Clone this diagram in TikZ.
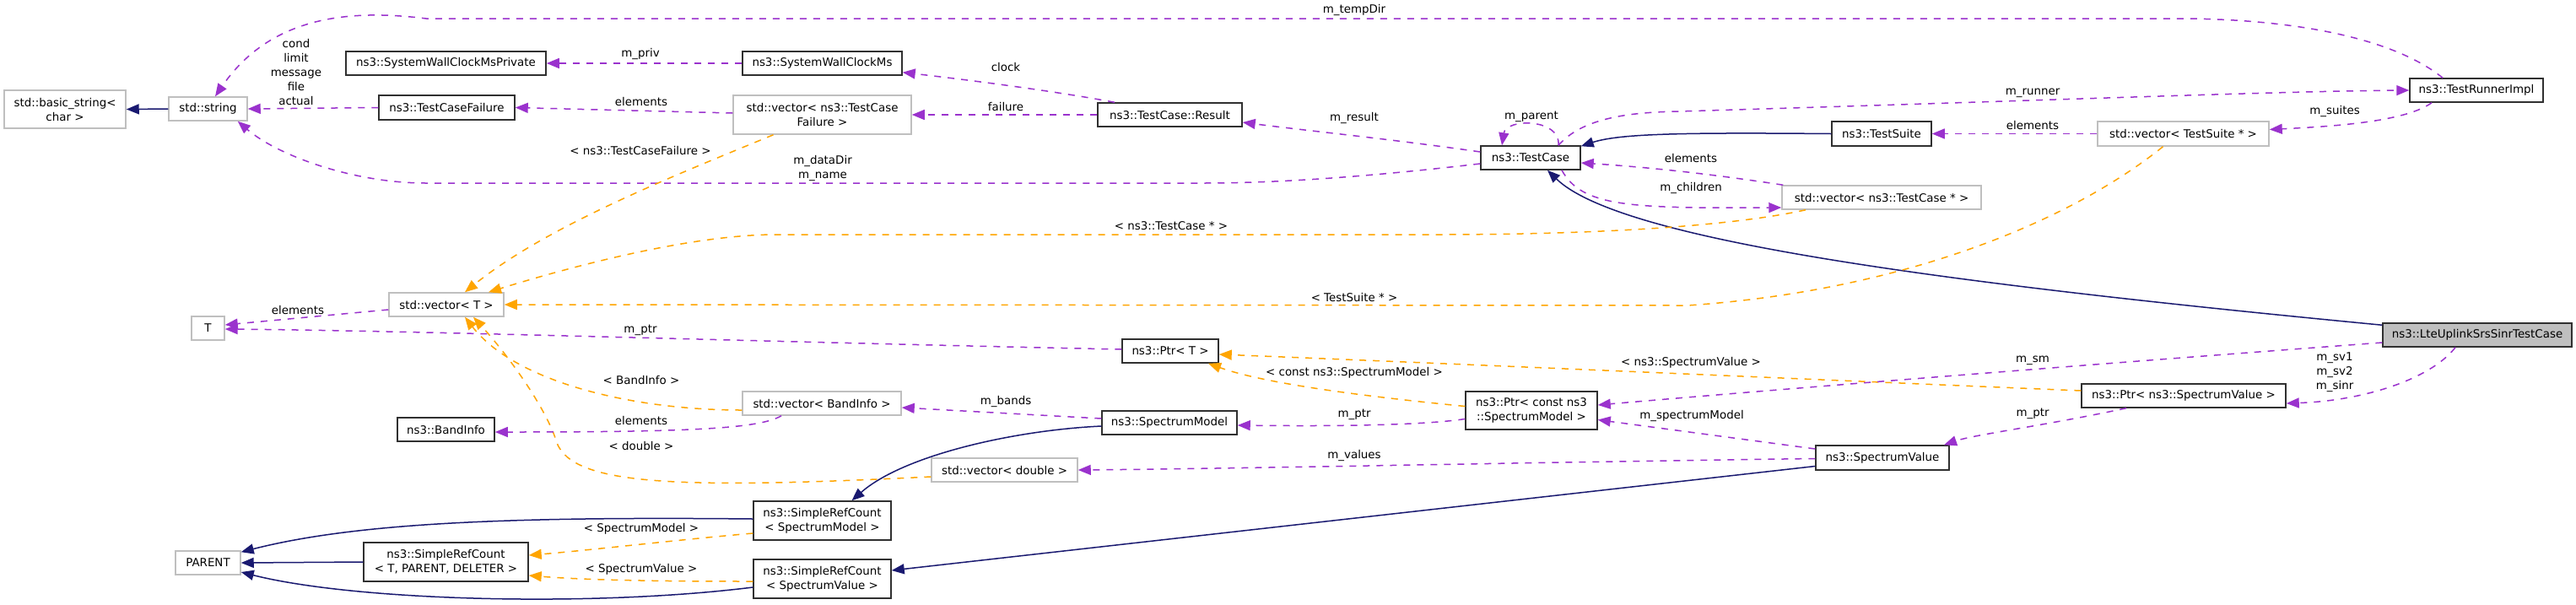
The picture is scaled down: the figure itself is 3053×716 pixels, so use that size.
\documentclass[tikz,border=0pt]{standalone}
\usepackage{fontspec}
\setmainfont{DejaVu Sans}
\usetikzlibrary{arrows.meta}
\definecolor{mempurple}{HTML}{9A32CD}
\definecolor{tmplorange}{HTML}{FFA500}
\definecolor{inhnavy}{HTML}{191970}
\definecolor{boxgray}{HTML}{BFBFBF}
\definecolor{boxdark}{HTML}{303030}
\begin{document}
\begin{tikzpicture}[x=1pt,y=-1pt,
  every node/.style={font=\fontsize{13.4}{17}\selectfont, inner sep=0pt, align=center},
  cls/.style={draw=boxdark, line width=1.5pt, fill=white},
  ext/.style={draw=boxgray, line width=1.5pt, fill=white},
  hl/.style={draw=boxdark, line width=1.5pt, fill=boxgray},
  tip/.style={-{Triangle[length=15pt,width=12pt]}},
  mem/.style={tip, draw=mempurple, line width=1.5pt, dash pattern=on 8pt off 8pt},
  tmpl/.style={tip, draw=tmplorange, line width=1.5pt, dash pattern=on 8pt off 8pt},
  inh/.style={tip, draw=inhnavy, line width=1.5pt}
]
\useasboundingbox (0,0) rectangle (3053,716);
\fill[white] (0,0) rectangle (3053,716);

% ---- nodes
\node[ext, minimum width=144pt, minimum height=45pt] (bstr) at (77,129.5) {std::basic\_string<\\char >};
\node[ext, minimum width=93pt, minimum height=28pt] (str) at (246.5,129) {std::string};
\node[cls, minimum width=237pt, minimum height=28pt] (swcmp) at (528.5,75) {ns3::SystemWallClockMsPrivate};
\node[cls, minimum width=161pt, minimum height=29pt] (tcf) at (529.5,127.5) {ns3::TestCaseFailure};
\node[cls, minimum width=189pt, minimum height=28pt] (swcm) at (974.5,75) {ns3::SystemWallClockMs};
\node[ext, minimum width=211pt, minimum height=46pt] (vtcf) at (974.5,136) {std::vector< ns3::TestCase\\Failure >};
\node[cls, minimum width=171pt, minimum height=28pt] (result) at (1386.5,136) {ns3::TestCase::Result};
\node[cls, minimum width=158pt, minimum height=28pt] (trimpl) at (2935,107) {ns3::TestRunnerImpl};
\node[cls, minimum width=118pt, minimum height=28pt] (tc) at (1814,187) {ns3::TestCase};
\node[cls, minimum width=118pt, minimum height=29pt] (tsuite) at (2230,158.5) {ns3::TestSuite};
\node[ext, minimum width=203pt, minimum height=29pt] (vts) at (2587.5,158.5) {std::vector< TestSuite * >};
\node[ext, minimum width=236pt, minimum height=28pt] (vtc) at (2230,234) {std::vector< ns3::TestCase * >};
\node[ext, minimum width=136pt, minimum height=28pt] (vt) at (529,361) {std::vector< T >};
\node[ext, minimum width=39pt, minimum height=28pt] (T) at (246.5,389) {T};
\node[ext, minimum width=188pt, minimum height=28pt] (vbi) at (974,478) {std::vector< BandInfo >};
\node[cls, minimum width=114pt, minimum height=28pt] (ptrT) at (1387,416) {ns3::Ptr< T >};
\node[cls, minimum width=156pt, minimum height=45pt] (ptrcsm) at (1815,486.5) {ns3::Ptr< const ns3\\::SpectrumModel >};
\node[hl, minimum width=224pt, minimum height=28pt] (lte) at (2936,397) {ns3::LteUplinkSrsSinrTestCase};
\node[cls, minimum width=242pt, minimum height=28pt] (ptrsv) at (2588,469) {ns3::Ptr< ns3::SpectrumValue >};
\node[cls, minimum width=158pt, minimum height=29pt] (sv) at (2231,542.5) {ns3::SpectrumValue};
\node[cls, minimum width=115pt, minimum height=28pt] (bi) at (528.5,509) {ns3::BandInfo};
\node[ext, minimum width=77pt, minimum height=28pt] (parent) at (246.5,667) {PARENT};
\node[cls, minimum width=195pt, minimum height=46pt] (srctpd) at (528.5,666) {ns3::SimpleRefCount\\< T, PARENT, DELETER >};
\node[cls, minimum width=163pt, minimum height=46pt] (srcsm) at (974.5,617) {ns3::SimpleRefCount\\< SpectrumModel >};
\node[cls, minimum width=163pt, minimum height=46pt] (srcsv) at (974.5,686) {ns3::SimpleRefCount\\< SpectrumValue >};
\node[cls, minimum width=160pt, minimum height=28pt] (sm) at (1386,501) {ns3::SpectrumModel};
\node[ext, minimum width=173pt, minimum height=28pt] (vd) at (1190.5,557) {std::vector< double >};

% ---- edges
\draw[inh] (str.west) -- (bstr.east);
\draw[mem] (tcf.west) -- (str.east);
\draw[mem] (swcm.west) -- (swcmp.east);
\draw[mem] ([yshift=2pt]vtcf.west) -- (tcf.east);
\draw[mem] ([xshift=-65.5pt]result.north) .. controls (1250,108) and (1150,95) .. ([yshift=4pt]swcm.south east);
\draw[mem] (result.west) -- (vtcf.east);
\draw[mem] ([yshift=7pt]tc.west) .. controls (1650,165) and (1550,155) .. ([yshift=-9pt]result.east);
\draw[mem] ([yshift=-7pt]tc.west) .. controls (1600,212) and (1500,217) .. (1424,217) -- (505,217) .. controls (420,217) and (330,185) .. ([xshift=-12pt]str.south east);
\draw[mem] ([xshift=-40pt]trimpl.north) .. controls (2830,40) and (2700,22) .. (2580,22) -- (505,22) .. controls (410,10) and (319,21) .. ([xshift=8.5pt]str.north);
\draw[mem] ([xshift=33pt]tc.north) .. controls (1875,140) and (1930,133) .. (1990,132) .. controls (2400,120) and (2700,108) .. (trimpl.west);
\draw[mem] ([xshift=33pt]tc.north) .. controls (1850,140) and (1785,140) .. ([xshift=-34pt]tc.north);
\draw[inh] (tsuite.west) .. controls (2000,157) and (1920,158) .. ([yshift=-1pt]tc.north east);
\draw[mem] (vts.west) -- (tsuite.east);
\draw[mem] ([xshift=-53pt]trimpl.south) .. controls (2850,145) and (2760,150) .. ([yshift=5pt]vts.east);
\draw[mem] ([xshift=2pt]vtc.north west) .. controls (2020,205) and (1950,198) .. ([yshift=-6pt]tc.east);
\draw[mem] ([xshift=37pt]tc.south) .. controls (1875,245) and (1930,247) .. ([yshift=-12pt]vtc.west);
\draw[inh] ([yshift=-3pt]lte.north west) .. controls (2300,335) and (1920,285) .. ([xshift=20pt]tc.south);
\draw[tmpl] ([xshift=-58pt]vtcf.south) .. controls (810,204) and (650,266) .. ([xshift=22pt]vt.north);
\draw[tmpl] ([xshift=-90pt]vtc.south) .. controls (2080,262) and (1950,278) .. (1700,278) -- (920,278) .. controls (820,278) and (680,315) .. ([xshift=50pt]vt.north);
\draw[tmpl] ([xshift=-24pt]vts.south) .. controls (2450,265) and (2250,345) .. (2000,362) -- (vt.east);
\draw[mem] ([yshift=2pt]ptrT.west) .. controls (900,405) and (500,392) .. ([yshift=-1pt]T.east);
\draw[mem] ([yshift=-6pt]vt.west) -- ([yshift=4pt]T.east);
\draw[tmpl] ([yshift=-8pt]vbi.west) .. controls (750,486) and (611,453) .. ([xshift=22pt]vt.south);
\draw[tmpl] ([yshift=-8pt]vd.west) .. controls (800,580) and (680,575) .. (660,525) .. controls (650,490) and (610,430) .. ([xshift=32pt]vt.south);
\draw[mem] ([xshift=-48pt]vbi.south) .. controls (900,508) and (820,512) .. ([yshift=-3pt]bi.east);
\draw[mem] ([yshift=5pt]sm.west) -- ([yshift=-5pt]vbi.east);
\draw[mem] ([yshift=-10pt]ptrcsm.west) .. controls (1680,505) and (1560,505) .. ([yshift=-3pt]sm.east);
\draw[tmpl] ([yshift=5pt]ptrcsm.west) .. controls (1620,470) and (1500,455) .. ([xshift=45pt]ptrT.south);
\draw[tmpl] ([yshift=6pt]ptrsv.west) .. controls (2200,452) and (1700,430) .. ([yshift=-4pt]ptrT.east);
\draw[mem] ([yshift=-9pt]lte.west) .. controls (2500,430) and (2100,462) .. ([yshift=6.5pt]ptrcsm.east);
\draw[mem] ([xshift=-26pt]lte.south) .. controls (2880,450) and (2800,475) .. ([yshift=-9pt]ptrsv.east);
\draw[mem] ([xshift=-68pt]ptrsv.south) .. controls (2420,505) and (2340,515) .. ([xshift=73pt]sv.north);
\draw[mem] ([yshift=10.5pt]sv.west) -- ([yshift=-11pt]ptrcsm.east);
\draw[mem] ([yshift=-1pt]sv.west) .. controls (1800,548) and (1500,555) .. (vd.east);
\draw[inh] ([yshift=-4pt]sm.west) .. controls (1200,510) and (1070,540) .. ([xshift=35pt]srcsm.north);
\draw[inh] ([yshift=-10pt]sv.west) -- ([yshift=10pt]srcsv.east);
\draw[inh] ([yshift=2pt]srcsm.west) .. controls (600,612) and (420,620) .. ([yshift=-2pt]parent.north east);
\draw[inh] (srctpd.west) -- (parent.east);
\draw[inh] ([yshift=-10pt]srcsv.west) .. controls (700,720) and (420,712) .. ([yshift=-11pt]parent.east);
\draw[tmpl] ([yshift=-15pt]srcsm.west) .. controls (800,640) and (700,652) .. ([yshift=8pt]srctpd.east);
\draw[tmpl] ([yshift=-3pt]srcsv.west) .. controls (800,689) and (700,688) .. ([yshift=-16pt]srctpd.east);

% ---- labels
\node (L1) at (351,85) {cond\\limit\\message\\file\\actual};
\node (L2) at (759,64) {m\_priv};
\node (L3) at (760,120) {elements};
\node (L4) at (759,178) {< ns3::TestCaseFailure >};
\node (L5) at (1605,12) {m\_tempDir};
\node (L6) at (1192,79) {clock};
\node (L7) at (1192,126) {failure};
\node (L8) at (1605,140) {m\_result};
\node (L9) at (975,199) {m\_dataDir\\m\_name};
\node (L10) at (2409,110) {m\_runner};
\node (L11) at (1815,138) {m\_parent};
\node (L12) at (2767,132) {m\_suites};
\node (L13) at (2409,148) {elements};
\node (L14) at (2004,187) {elements};
\node (L15) at (2004,223) {m\_children};
\node (L16) at (353,367) {elements};
\node (L17) at (759,391) {m\_ptr};
\node (L18) at (760,450) {< BandInfo >};
\node (L19) at (1388,268) {< ns3::TestCase * >};
\node (L20) at (1605,352) {< TestSuite * >};
\node (L21) at (1605,442) {< const ns3::SpectrumModel >};
\node (L22) at (2004,430) {< ns3::SpectrumValue >};
\node (L23) at (1192,476) {m\_bands};
\node (L24) at (1605,491) {m\_ptr};
\node (L25) at (2005,493) {m\_spectrumModel};
\node (L26) at (2409,427) {m\_sm};
\node (L27) at (2767,441) {m\_sv1\\m\_sv2\\m\_sinr};
\node (L28) at (2409,490) {m\_ptr};
\node (L29) at (1605,540) {m\_values};
\node (L30) at (760,498) {elements};
\node (L31) at (760,528) {< double >};
\node (L32) at (760,627) {< SpectrumModel >};
\node (L33) at (760,675) {< SpectrumValue >};
\end{tikzpicture}
\end{document}
